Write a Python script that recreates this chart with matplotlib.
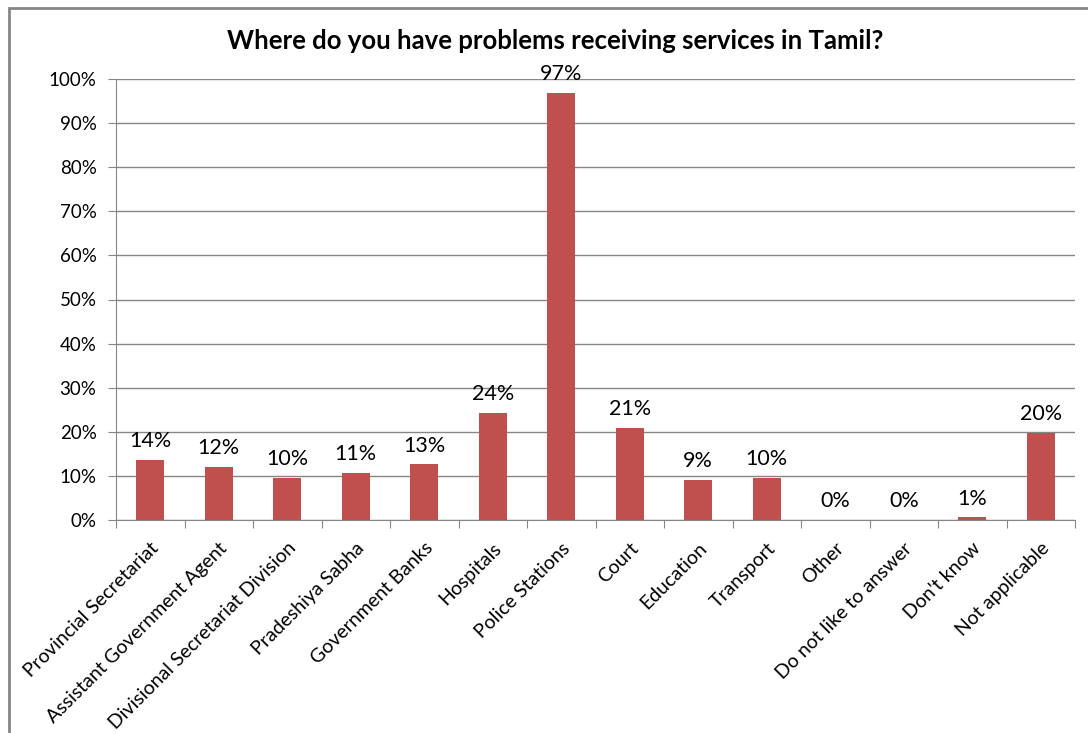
import numpy as np
import matplotlib.pyplot as plt
from matplotlib.patches import Rectangle

plt.rcParams["font.family"] = ["Lato", "DejaVu Sans"]

categories = ["Provincial Secretariat", "Assistant Government Agent",
              "Divisional Secretariat Division", "Pradeshiya Sabha",
              "Government Banks", "Hospitals", "Police Stations", "Court",
              "Education", "Transport", "Other", "Do not like to answer",
              "Don't know", "Not applicable"]
values = [13.6, 12.0, 9.6, 10.6, 12.6, 24.3, 96.8, 20.9, 9.1, 9.6, 0.0, 0.0, 0.6, 19.8]
labels = ["14%", "12%", "10%", "11%", "13%", "24%", "97%", "21%", "9%", "10%",
          "0%", "0%", "1%", "20%"]

grey = "#868686"
fig = plt.figure(figsize=(10.88, 7.33), dpi=100)
ax = fig.add_axes([116/1088, 1-520/733, (1075-116)/1088, (520-79)/733])

x = np.arange(len(categories))
ax.bar(x, values, width=0.41, color="#C0504D", zorder=3)
for xi, v, lab in zip(x, values, labels):
    ax.text(xi, v + 2.0, lab, ha="center", va="bottom", fontsize=15.5)

ax.set_xlim(-0.5, len(categories) - 0.5)
ax.set_ylim(0, 100)
ax.set_yticks(np.arange(0, 101, 10))
ax.set_yticklabels([f"{t}%" for t in range(0, 101, 10)], fontsize=13.5)
ax.yaxis.grid(True, color=grey, lw=1)
ax.set_axisbelow(True)

ax.set_xticks(np.arange(-0.5, len(categories), 1))
ax.set_xticklabels([])
ax.set_xticks(x, minor=True)
ax.set_xticklabels(categories, minor=True, rotation=45, ha="right",
                   rotation_mode="anchor", fontsize=14)
ax.tick_params(axis="x", which="minor", length=0, pad=14)
ax.tick_params(axis="x", which="major", length=6, color=grey)
ax.tick_params(axis="y", length=6, color=grey, pad=8)

for s in ["top", "right"]:
    ax.spines[s].set_visible(False)
ax.spines["left"].set_color(grey)
ax.spines["bottom"].set_color(grey)

fig.text(555/1088, 1-41/733, "Where do you have problems receiving services in Tamil?",
         ha="center", va="center", fontsize=18.5, fontweight="bold")

fig.patches.append(Rectangle((9/1088, -0.1), 1.2, 1-8/733+0.1, transform=fig.transFigure,
                             fill=False, ec=grey, lw=2))

fig.savefig("out.png", dpi=100)
